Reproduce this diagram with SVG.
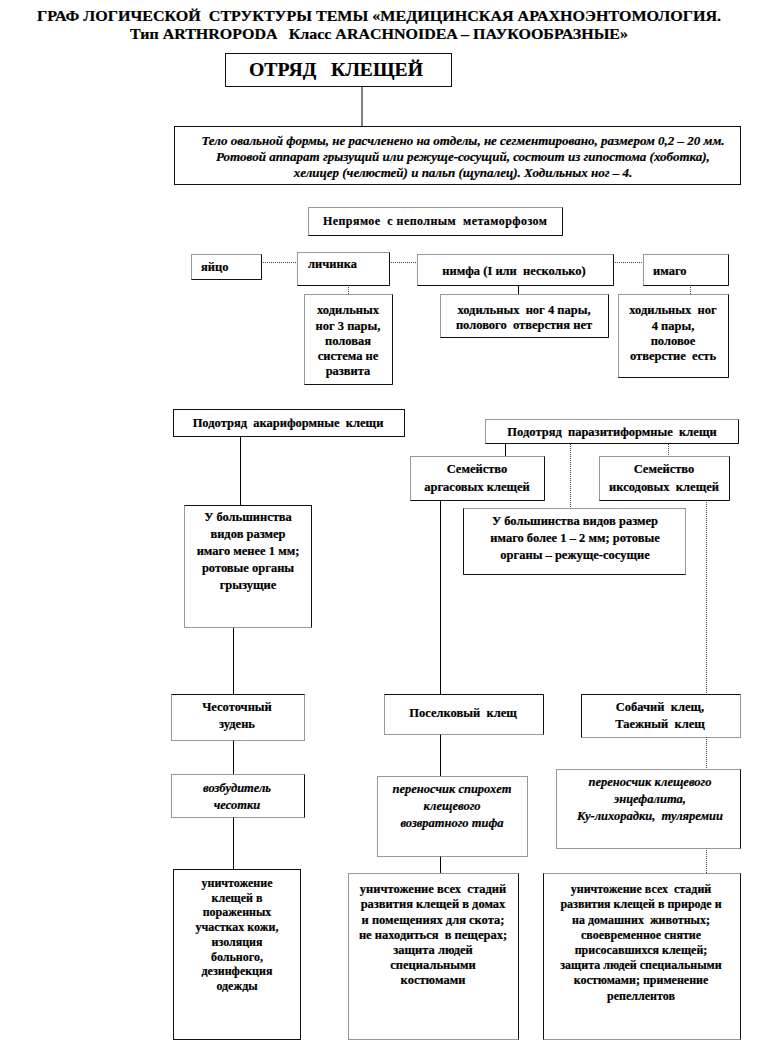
<svg xmlns="http://www.w3.org/2000/svg" width="759" height="1042" viewBox="0 0 759 1042" xml:space="preserve">
<style>
text{font-family:"Liberation Serif","Times New Roman",serif;font-weight:bold;fill:#000;stroke:#000;stroke-width:0.2;white-space:pre}
.t{font-size:15px;text-anchor:middle}
.c{text-anchor:middle;font-size:12.5px}
.l{font-size:12.5px}
.i{font-style:italic}
.s12{font-size:12px}
.bx{fill:#fff;stroke:#333;stroke-width:1;stroke-dasharray:1 1}
.sb{fill:#fff;stroke:#111;stroke-width:1}
.sh{fill:none;stroke:#111;stroke-width:1}
.ln{stroke:#000;stroke-width:1;fill:none}
.dl{stroke:#444;stroke-width:1;stroke-dasharray:1 1;fill:none}
</style>
<rect width="759" height="1042" fill="#fff"/>
<g id="title">
<text class="t" x="379" y="21" textLength="684" lengthAdjust="spacingAndGlyphs">ГРАФ ЛОГИЧЕСКОЙ  СТРУКТУРЫ ТЕМЫ «МЕДИЦИНСКАЯ АРАХНОЭНТОМОЛОГИЯ.</text>
<text class="t" x="379" y="39" textLength="498" lengthAdjust="spacingAndGlyphs">Тип ARTHROPODA   Класс ARACHNOIDEA – ПАУКООБРАЗНЫЕ»</text>
</g>
<g id="connectors">
<line class="ln" x1="362" y1="87" x2="362" y2="126"/>
<line class="dl" x1="261" y1="262.5" x2="297" y2="262.5"/>
<line class="dl" x1="389" y1="262.5" x2="417" y2="262.5"/>
<line class="dl" x1="613" y1="262.5" x2="643" y2="262.5"/>
<line class="dl" x1="348.5" y1="285" x2="348.5" y2="294"/>
<line class="ln" x1="518.5" y1="285" x2="518.5" y2="294"/>
<line class="dl" x1="690.5" y1="285" x2="690.5" y2="294"/>
<line class="ln" x1="240.5" y1="437" x2="240.5" y2="505"/>
<line class="ln" x1="505.5" y1="444" x2="505.5" y2="456"/>
<line class="dl" x1="570.5" y1="444" x2="570.5" y2="508"/>
<line class="dl" x1="668.5" y1="444" x2="668.5" y2="456"/>
<line class="ln" x1="440.5" y1="500" x2="440.5" y2="694"/>
<line class="dl" x1="706.5" y1="500" x2="706.5" y2="694"/>
<line class="ln" x1="233.5" y1="628" x2="233.5" y2="694"/>
<line class="ln" x1="233.5" y1="740" x2="233.5" y2="774"/>
<line class="ln" x1="440.5" y1="734" x2="440.5" y2="776"/>
<line class="dl" x1="706.5" y1="737" x2="706.5" y2="769"/>
<line class="ln" x1="233.5" y1="817" x2="233.5" y2="869"/>
<line class="ln" x1="440.5" y1="856" x2="440.5" y2="873"/>
<line class="dl" x1="706.5" y1="848" x2="706.5" y2="873"/>
</g>
<g id="otryad">
<rect class="sb" x="225.5" y="53.5" width="226" height="33"/>
<text x="336" y="76" style="font-size:19px;text-anchor:middle" textLength="174" lengthAdjust="spacingAndGlyphs">ОТРЯД   КЛЕЩЕЙ</text>
</g>
<g id="desc">
<rect class="sb" x="174.5" y="126.5" width="566" height="58"/>
<text class="c i" x="463" y="145" style="font-size:13px">Тело овальной формы, не расчленено на отделы, не сегментировано, размером 0,2 – 20 мм.</text>
<text class="c i" x="463" y="161" style="font-size:13px">Ротовой аппарат грызущий или режуще-сосущий, состоит из гипостома (хоботка),</text>
<text class="c i" x="463" y="177" style="font-size:13px">хелицер (челюстей) и пальп (щупалец). Ходильных ног – 4.</text>
</g>
<g id="metamorphosis">
<rect class="bx" x="308.5" y="207.5" width="254" height="28"/>
<path class="sh" d="M562.5 207.5V235.5H308.5"/>
<text x="435" y="225" style="font-size:12px;text-anchor:middle" textLength="224" lengthAdjust="spacing">Непрямое  с неполным  метаморфозом</text>
</g>
<g id="egg">
<rect class="bx" x="191.5" y="254.5" width="70" height="25"/>
<path class="sh" d="M261.5 254.5V279.5H191.5"/>
<text class="l" x="201" y="271">яйцо</text>
</g>
<g id="larva">
<rect class="bx" x="297.5" y="252.5" width="92" height="33"/>
<path class="sh" d="M389.5 252.5V285.5H297.5"/>
<text class="l" x="308" y="268">личинка</text>
</g>
<g id="nymph">
<rect class="bx" x="417.5" y="254.5" width="196" height="31"/>
<path class="sh" d="M613.5 254.5V285.5H417.5"/>
<text class="c" x="514" y="275">нимфа (I или  несколько)</text>
</g>
<g id="imago">
<rect class="bx" x="643.5" y="254.5" width="85" height="31"/>
<path class="sh" d="M728.5 254.5V285.5H643.5"/>
<text class="l" x="653" y="275">имаго</text>
</g>
<g id="larva-info">
<rect class="bx" x="304.5" y="294.5" width="88" height="90"/>
<path class="sh" d="M392.5 294.5V384.5H304.5"/>
<text class="c" x="348" y="314">ходильных</text>
<text class="c" x="348" y="330">ног 3 пары,</text>
<text class="c" x="348" y="345">половая</text>
<text class="c" x="348" y="360">система не</text>
<text class="c" x="348" y="375">развита</text>
</g>
<g id="nymph-info">
<rect class="bx" x="440.5" y="294.5" width="168" height="43"/>
<path class="sh" d="M608.5 294.5V337.5H440.5"/>
<text class="c" x="524" y="314">ходильных  ног 4 пары,</text>
<text class="c" x="524" y="329">полового  отверстия нет</text>
</g>
<g id="imago-info">
<rect class="bx" x="618.5" y="294.5" width="110" height="83"/>
<path class="sh" d="M728.5 294.5V377.5H618.5"/>
<text class="c" x="673" y="314">ходильных  ног</text>
<text class="c" x="673" y="330">4 пары,</text>
<text class="c" x="673" y="345">половое</text>
<text class="c" x="673" y="360">отверстие  есть</text>
</g>
<g id="acariform">
<rect class="sb" x="173.5" y="409.5" width="231" height="27"/>
<text class="c" x="288" y="427">Подотряд  акариформные  клещи</text>
</g>
<g id="parasitiform">
<rect class="bx" x="485.5" y="419.5" width="253" height="24"/>
<path class="sh" d="M738.5 419.5V443.5H485.5"/>
<text class="c" x="612" y="436">Подотряд  паразитиформные  клещи</text>
</g>
<g id="argasidae">
<rect class="bx" x="410.5" y="456.5" width="134" height="44"/>
<path class="sh" d="M544.5 456.5V500.5H410.5"/>
<text class="c" x="477" y="473">Семейство</text>
<text class="c" x="477" y="491">аргасовых клещей</text>
</g>
<g id="ixodidae">
<rect class="bx" x="599.5" y="456.5" width="130" height="44"/>
<path class="sh" d="M729.5 456.5V500.5H599.5"/>
<text class="c" x="664" y="473">Семейство</text>
<text class="c" x="664" y="491">иксодовых  клещей</text>
</g>
<g id="acariform-info">
<rect class="bx" x="184.5" y="505.5" width="127" height="122"/>
<path class="sh" d="M184.5 505.5H311.5V627.5"/>
<text class="c" x="248" y="521">У большинства</text>
<text class="c" x="248" y="538">видов размер</text>
<text class="c" x="248" y="555">имаго менее 1 мм;</text>
<text class="c" x="248" y="572">ротовые органы</text>
<text class="c" x="248" y="589">грызущие</text>
</g>
<g id="parasitiform-info">
<rect class="bx" x="463.5" y="508.5" width="222" height="66"/>
<path class="sh" d="M463.5 508.5V574.5H685.5"/>
<text class="c" x="575" y="525">У большинства видов размер</text>
<text class="c" x="575" y="542">имаго более 1 – 2 мм; ротовые</text>
<text class="c" x="575" y="559">органы – режуще-сосущие</text>
</g>
<g id="scabies-mite">
<rect class="bx" x="171.5" y="694.5" width="133" height="46"/>
<path class="sh" d="M171.5 694.5H304.5"/>
<text class="c" x="237" y="711">Чесоточный</text>
<text class="c" x="237" y="728">зудень</text>
</g>
<g id="settlement-tick">
<rect class="bx" x="384.5" y="694.5" width="159" height="40"/>
<path class="sh" d="M384.5 694.5H543.5V734.5"/>
<text class="c" x="463" y="717">Поселковый  клещ</text>
</g>
<g id="dog-tick">
<rect class="bx" x="581.5" y="694.5" width="159" height="43"/>
<path class="sh" d="M581.5 737.5V694.5H740.5"/>
<text class="c" x="660" y="711">Собачий  клещ,</text>
<text class="c" x="660" y="728">Таежный  клещ</text>
</g>
<g id="scabies-agent">
<rect class="bx" x="171.5" y="774.5" width="133" height="43"/>
<path class="sh" d="M304.5 774.5V817.5"/>
<text class="c i" x="237" y="792">возбудитель</text>
<text class="c i" x="237" y="809">чесотки</text>
</g>
<g id="relapsing-fever">
<rect class="bx" x="377.5" y="776.5" width="150" height="80"/>
<text class="c i" x="452" y="793">переносчик спирохет</text>
<text class="c i" x="452" y="810">клещевого</text>
<text class="c i" x="452" y="827">возвратного тифа</text>
</g>
<g id="encephalitis">
<rect class="bx" x="556.5" y="769.5" width="184" height="79"/>
<path class="sh" d="M740.5 769.5V848.5"/>
<text class="c i" x="650" y="786">переносчик клещевого</text>
<text class="c i" x="650" y="803">энцефалита,</text>
<text class="c i" x="650" y="820">Ку-лихорадки,  туляремии</text>
</g>
<g id="control-scabies">
<rect class="sb" x="173.5" y="869.5" width="127" height="170"/>
<text class="c s12" x="237" y="887">уничтожение</text>
<text class="c s12" x="237" y="902">клещей в</text>
<text class="c s12" x="237" y="916">пораженных</text>
<text class="c s12" x="237" y="931">участках кожи,</text>
<text class="c s12" x="237" y="946">изоляция</text>
<text class="c s12" x="237" y="961">больного,</text>
<text class="c s12" x="237" y="975">дезинфекция</text>
<text class="c s12" x="237" y="990">одежды</text>
</g>
<g id="control-settlement">
<rect class="bx" x="348.5" y="873.5" width="170" height="166"/>
<path class="sh" d="M518.5 873.5V1039.5"/>
<text class="c" x="433" y="893">уничтожение всех  стадий</text>
<text class="c" x="433" y="908">развития клещей в домах</text>
<text class="c" x="433" y="924">и помещениях для скота;</text>
<text class="c" x="433" y="939">не находиться  в пещерах;</text>
<text class="c" x="433" y="954">защита людей</text>
<text class="c" x="433" y="969">специальными</text>
<text class="c" x="433" y="984">костюмами</text>
</g>
<g id="control-ixodid">
<rect class="bx" x="543.5" y="873.5" width="197" height="166"/>
<path class="sh" d="M543.5 873.5V1039.5M740.5 873.5V1039.5"/>
<text class="c s12" x="641" y="893">уничтожение всех  стадий</text>
<text class="c s12" x="641" y="908">развития клещей в природе и</text>
<text class="c s12" x="641" y="924">на домашних  животных;</text>
<text class="c s12" x="641" y="939">своевременное снятие</text>
<text class="c s12" x="641" y="954">присосавшихся клещей;</text>
<text class="c s12" x="641" y="969">защита людей специальными</text>
<text class="c s12" x="641" y="984">костюмами; применение</text>
<text class="c s12" x="641" y="1000">репеллентов</text>
</g>
</svg>
